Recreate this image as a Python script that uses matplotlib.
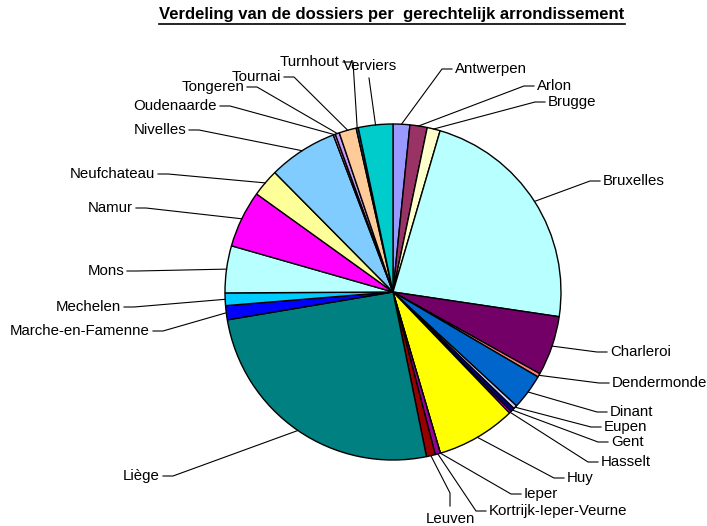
import numpy as np
import matplotlib
matplotlib.use("Agg")
import matplotlib.pyplot as plt
from matplotlib.lines import Line2D

plt.rcParams["font.family"] = ["Liberation Sans", "DejaVu Sans"]

################################################################
##### data: share of files per judicial district (%)

DISTRICTS = [
    "Antwerpen", "Arlon", "Brugge", "Bruxelles", "Charleroi",
    "Dendermonde", "Dinant", "Eupen", "Gent", "Hasselt",
    "Huy", "Ieper", "Kortrijk-Ieper-Veurne", "Leuven", "Liège",
    "Marche-en-Famenne", "Mechelen", "Mons", "Namur", "Neufchateau",
    "Nivelles", "Oudenaarde", "Tongeren", "Tournai", "Turnhout",
    "Verviers",
]
SHARES = [
    1.6, 1.65, 1.25, 22.7, 5.7,
    0.35, 3.4, 0.35, 0.4, 0.2,
    7.6, 0.0, 0.5, 0.85, 25.4,
    1.35, 1.2, 4.5, 5.45, 2.65,
    6.6, 0.2, 0.4, 1.65, 0.2,
    3.3,
]
COLORS = [
    "#9999FF", "#993366", "#FFFFCC", "#B8FFFF", "#720066",
    "#FF8080", "#0066CC", "#CCCCFF", "#000080", "#FF00FF",
    "#FFFF00", "#00FFFF", "#990099", "#990000", "#008080",
    "#0000FF", "#00CCFF", "#B8FFFF", "#FF00FF", "#FFFF99",
    "#80CCFF", "#FF99CC", "#CC99FF", "#FFCC99", "#0066CC",
    "#00CCCC",
]

TITLE = "Verdeling van de dossiers per  gerechtelijk arrondissement"

################################################################
##### layout (pixels of the 707x526 canvas)

W, H = 707, 526
CX, CY, R = 393, 292, 168

# label anchor: x, y, side ("left" = text right of the line end,
# "right" = text left of the line end, "below"/"above" for vertical leaders)
LABELS = {
    "Antwerpen": (455, 69, "left"),
    "Arlon": (537, 86, "left"),
    "Brugge": (548, 102, "left"),
    "Bruxelles": (603, 181, "left"),
    "Charleroi": (610, 352, "left"),
    "Dendermonde": (612, 383, "left"),
    "Dinant": (610, 412, "left"),
    "Eupen": (604, 427, "left"),
    "Gent": (611, 442, "left"),
    "Hasselt": (601, 462, "left"),
    "Huy": (567, 478, "left"),
    "Ieper": (524, 494, "left"),
    "Kortrijk-Ieper-Veurne": (489, 511, "left"),
    "Leuven": (450, 519, "below"),
    "Liège": (160, 476, "right"),
    "Marche-en-Famenne": (150, 331, "right"),
    "Mechelen": (121, 307, "right"),
    "Mons": (124, 271, "right"),
    "Namur": (133, 208, "right"),
    "Neufchateau": (155, 174, "right"),
    "Nivelles": (186, 130, "right"),
    "Oudenaarde": (217, 106, "right"),
    "Tongeren": (244, 87, "right"),
    "Tournai": (281, 77, "right"),
    "Turnhout": (340, 62, "right"),
    "Verviers": (370, 66, "above"),
}


def px(x, y):
    # canvas pixels -> data units (pie centre at 0,0, radius 1)
    return (x - CX) / R, (CY - y) / R


def leader(tx, ty, side):
    # elbow points of an Excel style leader line, in pixels
    if side == "left":
        return [(tx - 13, ty), (tx - 3, ty)], "left"
    if side == "right":
        return [(tx + 13, ty), (tx + 3, ty)], "right"
    if side == "below":
        return [(tx, ty - 26), (tx, ty - 13)], "center"
    return [(tx - 1, ty + 12)], "center"


def main():
    fig = plt.figure(figsize=(W / 100, H / 100), dpi=100)
    ax = fig.add_axes([0, 0, 1, 1])

    wedges, _ = ax.pie(
        SHARES,
        colors=COLORS,
        startangle=90,
        counterclock=False,
        radius=1,
        wedgeprops={"edgecolor": "black", "linewidth": 1.0},
    )
    # pie() resets the view, so fix it afterwards
    ax.set_xlim(px(0, 0)[0], px(W, 0)[0])
    ax.set_ylim(px(0, H)[1], px(0, 0)[1])
    ax.set_aspect("equal")
    ax.axis("off")

    for name, wedge in zip(DISTRICTS, wedges):
        tx, ty, side = LABELS[name]
        mid = np.deg2rad((wedge.theta1 + wedge.theta2) / 2)
        pts, ha = leader(tx, ty, side)
        xs = [np.cos(mid)] + [px(x, y)[0] for x, y in pts]
        ys = [np.sin(mid)] + [px(x, y)[1] for x, y in pts]
        ax.plot(xs, ys, color="black", lw=0.8)
        ax.text(*px(tx, ty), name, ha=ha, va="center", fontsize=10.8)

    title = fig.text(
        392 / W, 1 - 15 / H, TITLE,
        ha="center", va="center", fontsize=12, fontweight="bold",
    )

    # underline the title
    renderer = fig.canvas.get_renderer()
    bb = title.get_window_extent(renderer)
    y_line = (bb.y0 - 1) / H
    fig.add_artist(Line2D([bb.x0 / W, bb.x1 / W], [y_line, y_line],
                          color="black", lw=1.2))

    fig.savefig("out.png", dpi=100)


if __name__ == "__main__":
    main()
